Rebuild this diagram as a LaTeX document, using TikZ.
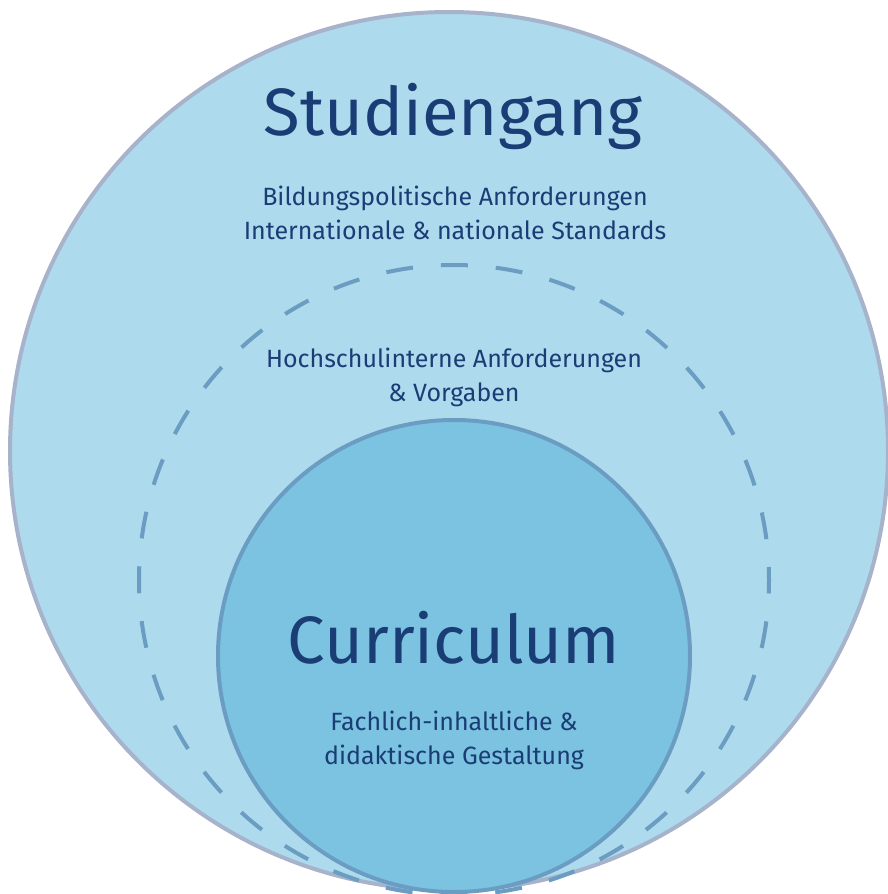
\documentclass[tikz,border=0pt]{standalone}
\usepackage{fontspec}
\setmainfont{Fira Sans}
\definecolor{outerfill}{HTML}{ADDAEC}
\definecolor{outerline}{HTML}{A7B3CB}
\definecolor{innerfill}{HTML}{7BC3E1}
\definecolor{innerline}{HTML}{6B9DC2}
\definecolor{textblue}{HTML}{1B3D75}
\tikzset{
  ring/.style={circle,inner sep=0pt,line width=4pt},
  title/.style={text=textblue,font=\fontsize{67}{80}\selectfont},
  info/.style={text=textblue,align=center,font=\fontsize{25}{34}\selectfont}
}
\begin{document}
\begin{tikzpicture}[x=1pt,y=-1pt]
    \clip (0,0) rectangle (888,894);
    \useasboundingbox (0,0) rectangle (888,894);
    \fill[white] (0,0) rectangle (888,894);
    % the three rings, all touching near the bottom
    \node[ring,draw=outerline,fill=outerfill,minimum size=878pt] (studiengang) at (449,451) {};
    \node[ring,draw=innerline,dash pattern=on 27pt off 28pt,dash phase=14pt,minimum size=630pt] (hochschule) at (454,580) {};
    \node[ring,draw=innerline,fill=innerfill,minimum size=472pt] (curriculum) at (454,656) {};
    % labels
    \node[title] (t1) at (453,117) {Studiengang};
    \node[info] (s1) at (455,213) {Bildungspolitische Anforderungen\\Internationale \& nationale Standards};
    \node[info] (s2) at (454,377) {Hochschulinterne Anforderungen\\\& Vorgaben};
    \node[title] (t2) at (454,638) {Curriculum};
    \node[info] (s3) at (454,740) {Fachlich-inhaltliche \&\\didaktische Gestaltung};
  \end{tikzpicture}
\end{document}
